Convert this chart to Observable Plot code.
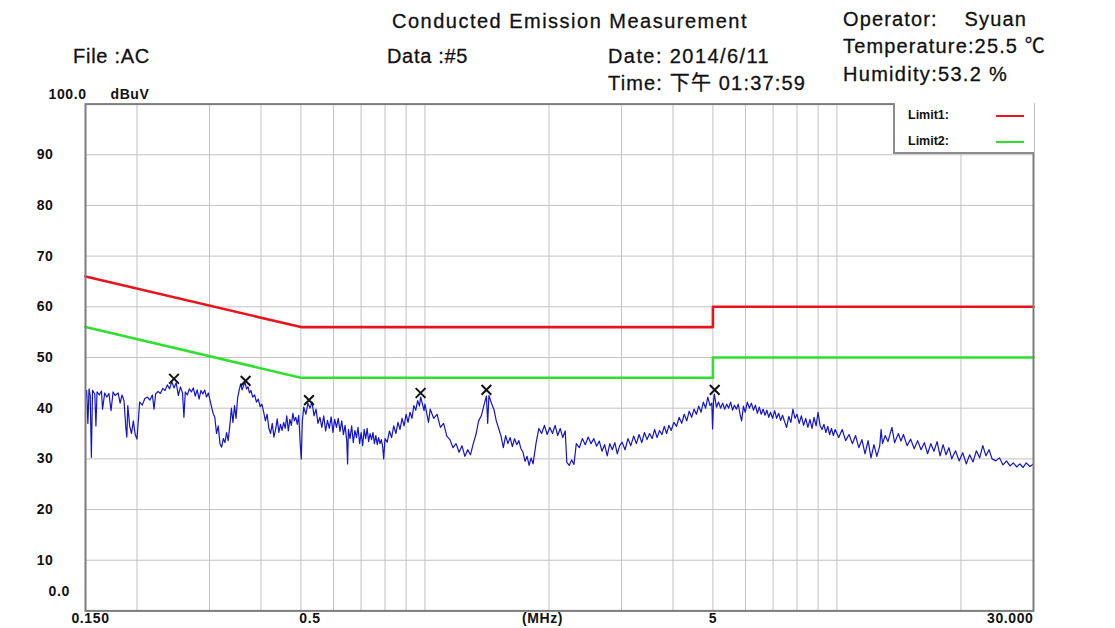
<!DOCTYPE html>
<html><head><meta charset="utf-8">
<script src="https://cdn.jsdelivr.net/npm/d3@7"></script>
<script src="https://cdn.jsdelivr.net/npm/@observablehq/plot@0.6"></script>
<style>
body{margin:0;background:#fff;}
#wrap{position:relative;width:1115px;height:628px;overflow:hidden;font-family:"Liberation Sans",Arial,"Noto Sans CJK SC",sans-serif;}
#wrap svg{position:absolute;left:0;top:0;}
.h{position:absolute;white-space:pre;font-size:20px;line-height:20px;color:#111;-webkit-text-stroke:0.3px #111;}
#legend{position:absolute;left:893px;top:103px;width:141px;height:51px;background:#fff;border-left:2px solid #8c8c8c;border-bottom:2px solid #8c8c8c;box-sizing:border-box;font-weight:bold;font-size:12.5px;color:#111;}
#legend .lt{position:absolute;left:13px;line-height:13px;}
#legend .ll{position:absolute;left:101px;width:28px;height:2px;}
</style></head><body><div id="wrap"></div>
<script>
// ---- data ----
const traceFreq = [
0.150,0.151,0.152,0.153,0.154,0.155,0.156,0.158,0.159,0.160,
0.162,0.164,0.165,0.167,0.169,0.171,0.173,0.175,0.177,0.180,
0.182,0.184,0.186,0.188,0.189,0.190,0.192,0.194,0.196,0.198,
0.200,0.203,0.206,0.209,0.212,0.215,0.218,0.220,0.222,0.225,
0.228,0.231,0.234,0.237,0.240,0.243,0.246,0.249,0.252,0.255,
0.258,0.260,0.262,0.265,0.268,0.271,0.274,0.277,0.280,0.283,
0.286,0.289,0.292,0.295,0.298,
0.303,0.306,0.309,0.312,0.315,0.318,0.321,0.324,0.327,0.330,
0.333,0.336,0.339,0.342,0.345,0.348,0.351,0.354,0.357,0.360,
0.363,0.366,0.369,0.372,0.375,0.378,0.382,0.386,0.390,0.394,
0.398,0.402,0.406,0.410,0.414,0.418,0.422,0.426,0.430,0.434,
0.438,0.442,0.446,0.450,0.454,0.458,0.462,0.466,0.470,0.474,
0.478,0.482,0.486,0.490,0.494,0.498,0.501,0.504,
0.508,0.514,0.520,0.526,0.532,0.538,0.544,0.550,0.556,0.562,
0.568,0.574,0.580,0.586,0.592,0.598,0.604,0.610,0.616,0.622,
0.628,0.634,0.640,0.646,0.649,0.652,0.658,0.664,0.670,0.676,
0.682,0.688,0.694,0.700,0.706,0.712,0.718,0.724,0.730,0.736,
0.742,0.748,0.754,0.760,0.766,0.772,0.778,0.784,0.790,0.794,
0.800,0.810,0.820,0.830,0.840,0.850,0.860,0.870,0.880,0.890,
0.900,0.910,0.920,0.930,0.940,0.950,0.960,0.970,0.976,0.985,
0.995,
1.00,1.02,1.03,1.05,1.07,1.09,1.11,1.13,1.15,1.17,
1.19,1.21,1.23,1.25,1.27,1.29,1.31,1.33,1.35,1.37,
1.39,1.41,1.42,1.43,1.45,1.47,1.49,1.51,1.53,1.55,
1.57,1.59,1.61,1.63,1.65,1.67,1.69,1.71,1.73,1.75,
1.77,1.79,1.81,1.83,1.86,1.89,1.92,1.95,1.98,
2.01,2.04,2.07,2.10,2.13,2.16,2.19,2.21,2.24,2.27,
2.30,2.33,2.37,2.41,2.45,2.49,2.53,2.57,2.61,2.65,
2.69,2.73,2.77,2.81,2.85,2.89,2.93,2.97,3.01,3.06,
3.11,3.16,3.21,3.26,3.31,3.36,3.41,3.46,3.51,3.56,
3.61,3.66,3.71,3.76,3.81,3.86,3.91,3.96,4.02,4.08,
4.14,4.20,4.26,4.32,4.38,4.44,4.50,4.56,4.62,4.68,
4.74,4.80,4.86,4.92,4.97,4.99,5.02,5.04,
5.10,5.16,5.22,5.28,5.34,5.40,5.46,5.52,5.58,5.64,
5.70,5.76,5.82,5.87,5.93,5.99,6.06,6.13,6.20,6.27,
6.34,6.41,6.48,6.55,6.62,6.69,6.76,6.83,6.90,6.98,
7.06,7.14,7.22,7.30,7.38,7.46,7.55,7.64,7.73,7.82,
7.91,8.00,8.10,8.20,8.30,8.40,8.50,8.60,8.70,8.80,
8.90,9.00,9.10,9.20,9.30,9.40,9.50,9.60,9.70,9.80,
9.90,
10.1,10.3,10.5,10.7,10.9,11.1,11.3,11.5,11.7,11.9,
12.1,12.3,12.5,12.7,12.8,12.9,13.1,13.3,13.6,13.8,
14.1,14.3,14.5,14.8,15.1,15.4,15.7,16.0,16.3,16.6,
16.9,17.2,17.5,17.8,18.1,18.4,18.7,19.0,19.4,19.8,
20.2,20.6,21.0,21.4,21.8,22.2,22.6,23.0,23.4,23.8,
24.3,24.8,25.3,25.8,26.3,26.8,27.3,27.8,28.3,28.8,
29.4,30.0
];
const traceLevel = [
42.0,43.5,37.0,43.8,42.5,30.3,43.5,42.8,36.5,43.2,
42.6,43.4,39.8,43.0,42.2,42.9,39.5,43.2,42.5,43.0,
41.0,42.6,41.5,36.0,34.3,40.5,36.5,35.0,37.5,34.8,
33.9,41.2,40.6,41.9,42.2,41.6,42.6,39.8,42.8,43.3,
42.9,43.9,43.5,44.6,43.8,45.2,44.0,45.0,42.5,44.2,
43.0,38.2,43.2,42.6,43.8,43.2,44.0,42.4,43.6,41.8,
43.5,42.8,43.6,42.2,43.0,
40.5,39.0,38.2,35.0,36.5,33.0,32.3,34.0,33.2,35.2,
33.6,36.5,40.0,37.2,40.5,38.0,42.0,43.5,44.8,43.6,
44.5,45.0,43.8,44.2,43.0,43.5,42.2,42.6,41.2,41.8,
40.3,40.8,39.2,37.5,38.8,36.0,35.0,37.0,34.3,35.8,
37.9,35.2,36.8,35.6,37.2,36.0,38.5,35.5,37.8,36.6,
39.0,37.5,38.2,36.8,38.6,33.0,30.0,37.5,
40.2,38.8,41.0,40.0,41.2,38.5,39.8,37.0,38.2,36.2,
38.5,35.5,37.6,36.0,38.3,35.2,37.8,36.2,38.0,35.4,
37.5,34.8,36.6,33.5,29.0,35.8,34.0,36.5,33.2,35.6,
34.2,36.2,33.0,35.2,32.6,35.8,34.0,36.0,33.4,35.0,
33.8,35.2,33.0,34.6,32.8,34.2,33.0,33.8,32.2,30.0,
34.0,33.3,35.5,34.2,36.5,35.0,37.2,35.8,38.0,36.5,
38.8,37.2,39.2,38.0,40.5,39.6,41.5,40.4,42.2,41.0,
39.5,
40.8,37.2,39.8,38.0,38.8,36.2,37.0,34.5,33.8,32.2,
33.0,31.3,32.6,30.5,31.8,30.8,33.0,34.8,37.5,38.5,
40.5,42.4,37.0,42.5,41.0,39.8,37.5,36.0,34.5,32.2,
34.6,33.0,34.2,32.4,34.0,32.8,33.6,32.0,31.3,29.5,
30.5,28.7,30.2,29.0,33.0,36.0,35.0,36.6,34.8,
36.2,35.0,36.6,34.6,36.0,34.2,35.5,29.3,28.7,29.8,
28.9,33.0,32.2,34.0,32.8,34.3,33.0,34.0,32.5,33.5,
31.5,32.8,30.6,33.0,31.8,33.2,31.0,32.6,33.3,31.8,
34.0,32.6,34.5,33.0,34.8,33.2,35.2,33.8,35.0,34.0,
35.8,34.2,35.6,34.8,36.4,35.0,36.6,35.6,37.2,36.4,
38.2,37.0,38.8,37.5,39.4,38.2,39.8,38.8,40.4,39.2,
41.2,40.0,42.2,40.5,41.0,35.9,41.5,42.8,
40.2,41.2,40.0,41.0,39.8,40.8,40.0,41.2,39.6,40.6,
39.8,40.8,38.8,37.5,40.4,39.2,41.2,40.0,41.0,39.6,
40.6,39.0,40.2,38.8,39.8,38.6,39.6,38.2,39.2,38.0,
39.5,38.0,39.0,37.6,38.6,37.4,36.2,38.4,37.2,39.8,
38.0,38.8,37.0,38.5,36.6,38.0,36.2,37.8,36.0,38.2,
36.5,39.2,36.6,35.8,36.8,35.2,36.4,34.8,36.0,34.6,
35.8,
34.2,35.8,33.6,34.8,33.0,34.6,32.2,33.8,31.0,33.6,
30.2,32.8,30.5,32.5,35.8,33.0,34.6,33.4,36.2,33.2,
35.0,33.5,34.8,32.6,33.9,32.0,33.6,31.8,33.2,31.0,
33.0,31.5,33.4,30.6,32.8,30.8,32.2,30.0,31.6,29.6,
31.2,29.0,30.8,29.4,31.6,30.2,32.6,30.6,31.8,30.0,
29.6,30.2,28.8,29.6,28.6,29.2,28.4,29.0,28.3,29.2,
28.5,29.0
];
const limitFreq = [0.15, 0.5, 5, 5, 30];
const limit1Level = [66, 56, 56, 60, 60];
const limit2Level = [56, 46, 46, 50, 50];
const peakFreq = [0.246, 0.367, 0.523, 0.976, 1.41, 5.05];
const peakLevel = [45.8, 45.4, 41.6, 43.0, 43.6, 43.6];
const gridFreq = [0.2,0.3,0.4,0.5,0.6,0.7,0.8,0.9,1,2,3,4,5,6,7,8,9,10,20];
const gridLevel = [10,20,30,40,50,60,70,80,90];
const yTickLabels = ["10","20","30","40","50","60","70","80","90"];
const xTickFreq = [0.15, 0.5, 5, 30];
const xTickLabels = ["0.150", "0.5", "5", "30.000"];
const unitX = "(MHz)";
const unitY = "dBuV";
const yTopLabel = "100.0";
const yBottomLabel = "0.0";
const headerTexts = [
  "Conducted Emission Measurement", "File :AC", "Data :#5", "Date: 2014/6/11",
  "Time: 下午 01:37:59", "Operator:    Syuan", "Temperature:25.5 ℃", "Humidity:53.2 %"
];
const legendNames = ["Limit1:", "Limit2:"];

// ---- build ----
const trace = traceFreq.map((f, i) => ({f, v: traceLevel[i]}));
const lim1 = limitFreq.map((f, i) => ({f, v: limit1Level[i]}));
const lim2 = limitFreq.map((f, i) => ({f, v: limit2Level[i]}));
const peaks = peakFreq.map((f, i) => ({f, v: peakLevel[i]}));
const yLab = gridLevel.map((v, i) => ({v, t: yTickLabels[i]}));
const xLab = xTickFreq.map((f, i) => ({f, t: xTickLabels[i]}));

const RED = "#e8141b", GREEN = "#2ee02e";
const lblStyle = {fontSize: 14, fontWeight: "bold", fill: "#111"};

const chart = Plot.plot({
  width: 1115, height: 628,
  marginLeft: 85, marginRight: 82, marginTop: 103.6, marginBottom: 17.6,
  x: {type: "log", domain: [0.15, 30], axis: null},
  y: {domain: [0, 100], axis: null},
  style: {fontFamily: "'Liberation Sans', Arial, sans-serif", background: "transparent", letterSpacing: "0.6px"},
  marks: [
    Plot.gridX(gridFreq, {stroke: "#c2c2c2", strokeOpacity: 1, strokeWidth: 1}),
    Plot.gridY(gridLevel, {stroke: "#c2c2c2", strokeOpacity: 1, strokeWidth: 1}),
    Plot.line(lim1, {x: "f", y: "v", stroke: RED, strokeWidth: 2.6}),
    Plot.line(lim2, {x: "f", y: "v", stroke: GREEN, strokeWidth: 2.6}),
    Plot.line(trace, {x: "f", y: "v", stroke: "#1414c8", strokeWidth: 1.2}),
    Plot.dot(peaks, {x: "f", y: "v", symbol: "times", r: 4.5, stroke: "#111", strokeWidth: 2}),
    Plot.frame({stroke: "#7c7c7c", strokeWidth: 2}),
    Plot.text(yLab, {y: "v", text: "t", frameAnchor: "left", dx: -32, textAnchor: "end", ...lblStyle}),
    Plot.text([yTopLabel], {text: d => d, frameAnchor: "top-left", dx: -37, dy: -15, textAnchor: "start", ...lblStyle}),
    Plot.text([unitY], {text: d => d, frameAnchor: "top-left", dx: 25, dy: -15, textAnchor: "start", ...lblStyle}),
    Plot.text([yBottomLabel], {text: d => d, frameAnchor: "bottom-left", dx: -37, dy: -15, textAnchor: "start", ...lblStyle}),
    Plot.text([xLab[0]], {x: "f", text: "t", frameAnchor: "bottom", dy: 12, dx: 5, ...lblStyle}),
    Plot.text([xLab[1]], {x: "f", text: "t", frameAnchor: "bottom", dy: 12, dx: 9, ...lblStyle}),
    Plot.text([xLab[2]], {x: "f", text: "t", frameAnchor: "bottom", dy: 12, dx: 0, ...lblStyle}),
    Plot.text([xLab[3]], {x: "f", text: "t", frameAnchor: "bottom", dy: 12, dx: 0, textAnchor: "end", ...lblStyle}),
    Plot.text([unitX], {text: d => d, frameAnchor: "bottom", dy: 12, dx: -17, ...lblStyle})
  ]
});
const wrap = document.getElementById("wrap");
wrap.appendChild(chart);

// header texts: [left, right, centerY]
const headerPos = [[392,748,21],[73,150,56],[387,468,56],[608,770,56],[608,806,83],[843,1027,19],[843,1046,46],[843,1008,74]];
headerTexts.forEach((t, i) => {
  const [l, r, cy] = headerPos[i];
  const d = document.createElement("div");
  d.className = "h"; d.textContent = t;
  d.style.left = l + "px"; d.style.top = (cy - 10) + "px";
  wrap.appendChild(d);
  const w = d.getBoundingClientRect().width;
  d.style.letterSpacing = ((r - l - w) / t.length) + "px";
});

// legend
const lg = document.createElement("div");
lg.id = "legend";
legendNames.forEach((n, i) => {
  const t = document.createElement("div");
  t.className = "lt"; t.textContent = n; t.style.top = (6 + i * 26) + "px";
  lg.appendChild(t);
  const l = document.createElement("div");
  l.className = "ll"; l.style.top = (12 + i * 26) + "px";
  l.style.background = i === 0 ? RED : GREEN;
  lg.appendChild(l);
});
wrap.appendChild(lg);
</script>
</body></html>
